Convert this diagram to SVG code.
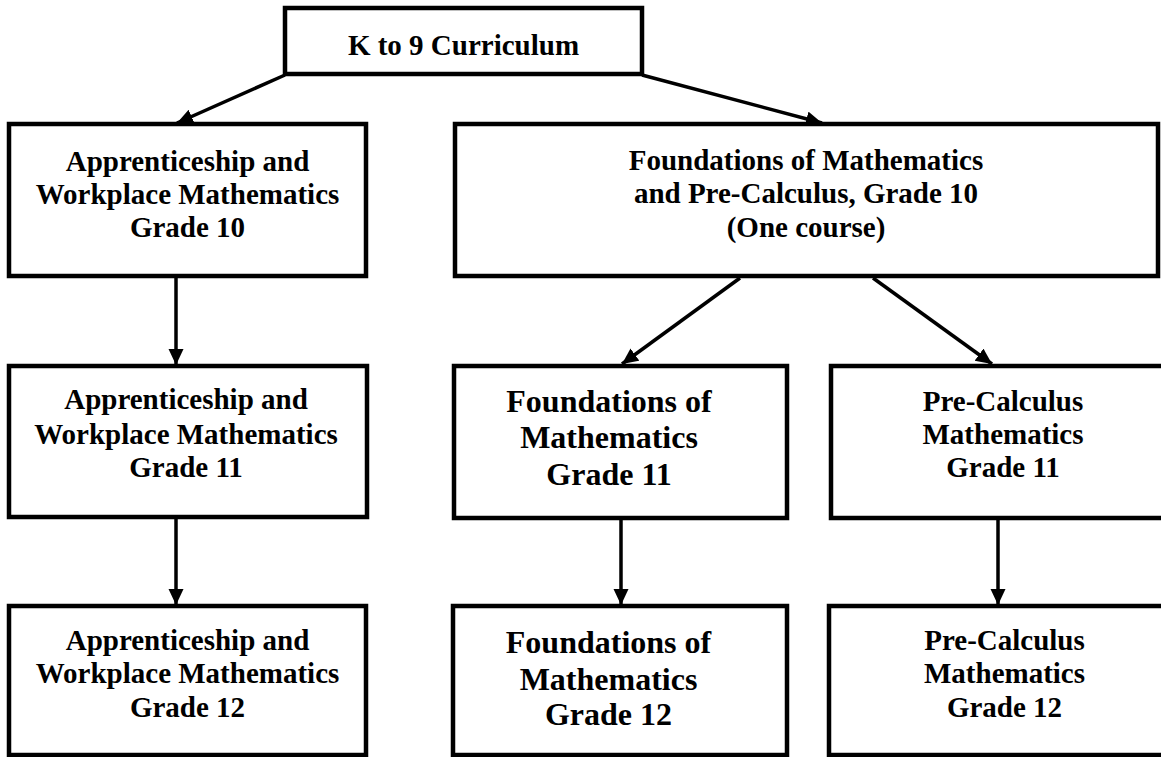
<svg xmlns="http://www.w3.org/2000/svg" width="1161" height="757" viewBox="0 0 1161 757">
<style>
.box{fill:#fff;stroke:#000;stroke-width:4.5}
.t{font-family:"Liberation Serif","Times New Roman",serif;font-weight:bold;font-size:29px;fill:#000;text-anchor:middle}
.tl{font-size:32px}
.c{stroke:#000;stroke-width:3.5;fill:none;marker-end:url(#ah)}
</style>
<defs>
<marker id="ah" markerUnits="userSpaceOnUse" markerWidth="17" markerHeight="16" refX="16" refY="7.5" orient="auto">
<path d="M0,0 L16,7.5 L0,15 z" fill="#000"/>
</marker>
</defs>
<rect width="1161" height="757" fill="#fff"/>
<g id="connectors">
<line class="c" x1="285" y1="75" x2="177" y2="123"/>
<line class="c" x1="642" y1="75" x2="822" y2="123"/>
<line class="c" x1="176" y1="277" x2="176" y2="365"/>
<line class="c" x1="176" y1="518" x2="176" y2="605"/>
<line class="c" x1="740" y1="278" x2="622" y2="364"/>
<line class="c" x1="873" y1="278" x2="992" y2="364"/>
<line class="c" x1="621" y1="519" x2="621" y2="605"/>
<line class="c" x1="998" y1="519" x2="998" y2="605"/>
</g>
<g id="k9">
<rect class="box" x="285" y="8" width="357" height="66"/>
<text class="t" x="463.5" y="55">K to 9 Curriculum</text>
</g>
<g id="aw10">
<rect class="box" x="9" y="124" width="357" height="152"/>
<text class="t" x="187.5" y="171">Apprenticeship and</text>
<text class="t" x="187.5" y="204">Workplace Mathematics</text>
<text class="t" x="187.5" y="237">Grade 10</text>
</g>
<g id="fp10">
<rect class="box" x="455" y="124" width="703" height="152"/>
<text class="t" x="806" y="170">Foundations of Mathematics</text>
<text class="t" x="806" y="203">and Pre-Calculus, Grade 10</text>
<text class="t" x="806" y="237">(One course)</text>
</g>
<g id="aw11">
<rect class="box" x="9" y="366" width="358" height="151"/>
<text class="t" x="186" y="409">Apprenticeship and</text>
<text class="t" x="186" y="444">Workplace Mathematics</text>
<text class="t" x="186" y="477">Grade 11</text>
</g>
<g id="fm11">
<rect class="box" x="454" y="366" width="333" height="152"/>
<text class="t tl" x="609" y="412">Foundations of</text>
<text class="t tl" x="609" y="448">Mathematics</text>
<text class="t tl" x="609" y="485">Grade 11</text>
</g>
<g id="pc11">
<rect class="box" x="831" y="366" width="345" height="152"/>
<text class="t" x="1003" y="411">Pre-Calculus</text>
<text class="t" x="1003" y="444">Mathematics</text>
<text class="t" x="1003" y="477">Grade 11</text>
</g>
<g id="aw12">
<rect class="box" x="9" y="606" width="357" height="149"/>
<text class="t" x="187.5" y="650">Apprenticeship and</text>
<text class="t" x="187.5" y="683">Workplace Mathematics</text>
<text class="t" x="187.5" y="717">Grade 12</text>
</g>
<g id="fm12">
<rect class="box" x="453" y="606" width="334" height="149"/>
<text class="t tl" x="608.5" y="653">Foundations of</text>
<text class="t tl" x="608.5" y="690">Mathematics</text>
<text class="t tl" x="608.5" y="725">Grade 12</text>
</g>
<g id="pc12">
<rect class="box" x="829" y="606" width="345" height="149"/>
<text class="t" x="1004.5" y="650">Pre-Calculus</text>
<text class="t" x="1004.5" y="683">Mathematics</text>
<text class="t" x="1004.5" y="717">Grade 12</text>
</g>
</svg>
